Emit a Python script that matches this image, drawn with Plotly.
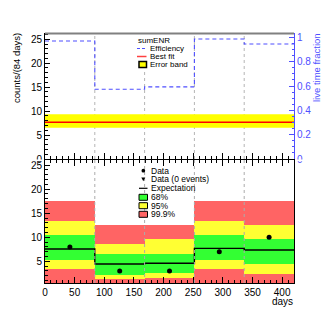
import plotly.graph_objects as go

# binning: 5 bins of 84 days
bin_edges = [0, 84, 168, 252, 336, 420]
bin_centers = [42, 126, 210, 294, 378]
boundaries = [84, 168, 252, 336]

# top panel: live time fraction and fitted rate
efficiency = [0.970, 0.573, 0.593, 0.987, 0.946]
best_fit = 7.66
fit_band_lo = 6.53
fit_band_hi = 9.33

# bottom panel: expectation, data and Poisson bands
expectation = [7.56, 4.44, 4.59, 7.70, 7.35]
data_counts = [8, 3, 3, 7, 10]
band68_lo = [5.48, 2.37, 2.68, 5.48, 4.50]
band68_hi = [10.67, 6.63, 6.63, 10.60, 9.64]
band95_lo = [3.55, 1.43, 1.64, 3.55, 2.50]
band95_hi = [13.58, 8.70, 9.74, 13.58, 12.55]
band999_lo = [0, 0, 0, 0, 0]
band999_hi = [17.6, 12.75, 12.75, 17.6, 17.6]

# page body has an 8px margin, so the figure is a bit smaller than the window
OFF = 8
W, H = 332 - OFF, 322 - OFF
PX0, PX1, PY0, PY1 = 45, 294, 33, 283     # plot area in window pixels
L, R, T, B = PX0 - OFF, 332 - PX1, PY0 - OFF, 322 - PY1
PW, PH = PX1 - PX0, PY1 - PY0

def fx(p):
    return (p - PX0) / PW

def fy(p):
    return (PY1 - p) / PH

FONT = "Liberation Sans, Arial, sans-serif"
BLUE = "#4f4fff"
GREEN = "#33ff33"
YELLOW = "#ffff33"
RED = "#ff6464"

fig = go.Figure()

# ---- top panel
fig.add_trace(go.Scatter(x=[bin_edges[0], bin_edges[-1], bin_edges[-1], bin_edges[0]],
                         y=[fit_band_lo, fit_band_lo, fit_band_hi, fit_band_hi],
                         fill="toself", fillcolor="#ffff00", mode="none",
                         xaxis="x", yaxis="y"))
fig.add_trace(go.Scatter(x=[bin_edges[0], bin_edges[-1]], y=[best_fit, best_fit],
                         mode="lines", line=dict(color="#ff0000", width=1.5),
                         xaxis="x", yaxis="y"))
fig.add_trace(go.Scatter(x=bin_edges, y=efficiency + [efficiency[-1]],
                         mode="lines", line=dict(color=BLUE, width=1.1, dash="4px,3px", shape="hv"),
                         xaxis="x", yaxis="y2"))

# ---- bottom panel
for lo, hi, col in [(band999_lo, band999_hi, RED), (band95_lo, band95_hi, YELLOW),
                    (band68_lo, band68_hi, GREEN)]:
    fig.add_trace(go.Bar(x=bin_centers, y=[h - l for l, h in zip(lo, hi)], base=lo,
                         width=84, marker=dict(color=col, line=dict(width=0)),
                         xaxis="x2", yaxis="y3"))
fig.add_trace(go.Scatter(x=bin_edges, y=expectation + [expectation[-1]],
                         mode="lines", line=dict(color="black", width=1.4, shape="hv"),
                         xaxis="x2", yaxis="y3"))
fig.add_trace(go.Scatter(x=bin_centers, y=data_counts, mode="markers",
                         marker=dict(color="black", size=5),
                         xaxis="x2", yaxis="y3"))

shapes = []
for b in boundaries:
    shapes.append(dict(type="line", xref="x", yref="y domain", x0=b, x1=b, y0=0, y1=1,
                       line=dict(color="#b4b4b4", width=1, dash="dot"), layer="below"))
    shapes.append(dict(type="line", xref="x2", yref="y3 domain", x0=b, x1=b, y0=0, y1=1,
                       line=dict(color="#acacac", width=1, dash="dot"), layer="above"))

# top frame border (gray)
shapes.append(dict(type="line", xref="paper", yref="paper", x0=0, x1=1, y0=fy(33.5), y1=fy(33.5),
                   line=dict(color="#808080", width=2)))

# the lower pad hides the lower half of the upper pad's "0" labels
for xa, xb in [(20, 43), (296, 312)]:
    shapes.append(dict(type="rect", xref="paper", yref="paper", x0=fx(xa), x1=fx(xb),
                       y0=fy(161.2), y1=fy(159.5), fillcolor="white", line=dict(width=0),
                       layer="above"))

# top legend
shapes.append(dict(type="rect", xref="paper", yref="paper", x0=fx(136), x1=fx(191),
                   y0=fy(35), y1=fy(69), fillcolor="white", line=dict(width=0), layer="above"))
shapes.append(dict(type="line", xref="paper", yref="paper", x0=fx(137), x1=fx(146.5),
                   y0=fy(48.5), y1=fy(48.5), line=dict(color=BLUE, width=1.2, dash="3px,2px")))
shapes.append(dict(type="line", xref="paper", yref="paper", x0=fx(137), x1=fx(146.5),
                   y0=fy(56.5), y1=fy(56.5), line=dict(color="#ff4040", width=1.5)))
shapes.append(dict(type="rect", xref="paper", yref="paper", x0=fx(139), x1=fx(146.5),
                   y0=fy(61.5), y1=fy(67.5), fillcolor="#ffff00", line=dict(color="black", width=1.5)))

# bottom legend
shapes.append(dict(type="circle", xref="paper", yref="paper", x0=fx(141.5), x1=fx(145.2),
                   y0=fy(168.8), y1=fy(172.5), fillcolor="black", line=dict(width=0)))
shapes.append(dict(type="path", xref="paper", yref="paper",
                   path="M %f,%f L %f,%f L %f,%f Z" % (fx(141.3), fy(177.5), fx(145.3), fy(177.5),
                                                         fx(143.3), fy(181.3)),
                   fillcolor="black", line=dict(width=0)))
shapes.append(dict(type="line", xref="paper", yref="paper", x0=fx(139), x1=fx(147.5),
                   y0=fy(188.3), y1=fy(188.3), line=dict(color="black", width=1.2)))
for yc, col in [(197.3, GREEN), (205.7, YELLOW), (214.3, RED)]:
    shapes.append(dict(type="rect", xref="paper", yref="paper", x0=fx(139), x1=fx(147.5),
                       y0=fy(yc - 3), y1=fy(yc + 3), fillcolor=col, line=dict(color="black", width=1)))

annotations = []

def label(text, xp, yp, size, color="black", xanchor="left", angle=0):
    annotations.append(dict(text=text, xref="paper", yref="paper", x=fx(xp), y=fy(yp),
                            xanchor=xanchor, yanchor="middle", showarrow=False, textangle=angle,
                            font=dict(family=FONT, size=size, color=color), borderpad=0))

label("sumENR", 137, 40.5, 8)
label("Efficiency", 148.5, 48.5, 8)
label("Best fit", 148.5, 56.5, 8)
label("Error band", 148.5, 64.5, 8)

label("Data", 150, 170.7, 8.5)
label("Data (0 events)", 150, 179.3, 8.5)
label("Expectation", 150, 188.3, 8.5)
label("68%", 150, 197.3, 8.5)
label("95%", 150, 205.7, 8.5)
label("99.9%", 150, 214.3, 8.5)

label("counts/(84 days)", 16, 68, 9.5, xanchor="center", angle=-90)
label("live time fraction", 316.5, 67.5, 9.5, color=BLUE, xanchor="center", angle=-90)
label("days", 294, 301.5, 10, xanchor="right")

tickfont = dict(family=FONT, size=10, color="black")
xcommon = dict(range=[0, 420], dtick=50, tick0=0, ticks="inside", ticklen=6, tickwidth=1,
               tickcolor="black", linecolor="black", linewidth=1, showline=True,
               showgrid=False, zeroline=False,
               minor=dict(dtick=10, ticks="inside", ticklen=3, tickcolor="black", showgrid=False))

fig.update_layout(
    width=W, height=H, margin=dict(l=L, r=R, t=T, b=B),
    paper_bgcolor="white", plot_bgcolor="white", showlegend=False,
    barmode="overlay", bargap=0,
    font=dict(family=FONT, size=10, color="black"),
    xaxis=dict(xcommon, domain=[0, 1], anchor="y", showticklabels=False),
    yaxis=dict(domain=[fy(159), 1], anchor="x", range=[0, 26.3], dtick=5, tick0=0,
               ticks="inside", ticklen=5, tickcolor="black", linecolor="black", linewidth=1,
               showline=True, showgrid=False, zeroline=False, tickfont=tickfont,
               minor=dict(dtick=1, ticks="inside", ticklen=2.5, tickcolor="black", showgrid=False)),
    yaxis2=dict(overlaying="y", side="right", anchor="x", range=[0, 1.036], dtick=0.2, tick0=0,
                ticks="inside", ticklen=5, tickcolor=BLUE, linecolor=BLUE, linewidth=1,
                showline=True, showgrid=False, zeroline=False,
                tickfont=dict(family=FONT, size=10, color=BLUE),
                minor=dict(dtick=0.05, ticks="inside", ticklen=2.5, tickcolor=BLUE, showgrid=False)),
    xaxis2=dict(xcommon, domain=[0, 1], anchor="y3", mirror="ticks", tickfont=tickfont),
    yaxis3=dict(domain=[0, fy(159.5)], anchor="x2", range=[0.5, 26.15], dtick=5, tick0=0,
                ticks="inside", ticklen=5, tickcolor="black", linecolor="black", linewidth=1,
                showline=True, mirror=True, showgrid=False, zeroline=False, tickfont=tickfont,
                minor=dict(dtick=1, ticks="inside", ticklen=2.5, tickcolor="black", showgrid=False)),
    shapes=shapes,
    annotations=annotations,
)

fig.write_html("out.html")
